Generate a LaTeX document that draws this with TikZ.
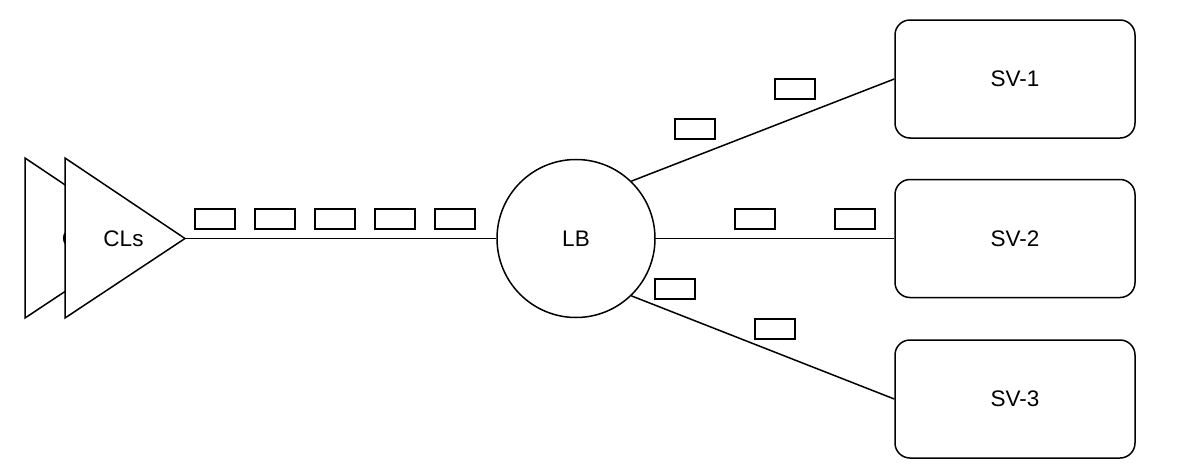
\documentclass[tikz,border=0pt]{standalone}
\usepackage{fontspec}
\setmainfont{Liberation Sans}
\begin{document}
\begin{tikzpicture}[x=1pt,y=-1pt,line width=1.5pt,font=\fontsize{22.5}{26}\selectfont,
  box/.style={draw,rounded corners=15pt,minimum width=240pt,minimum height=118pt,inner sep=0pt},
  pkt/.style={draw,minimum width=40pt,minimum height=20pt,inner sep=0pt},
  conn/.style={draw,line width=1.5pt},
  tri/.style={draw,fill=white,line join=miter}]
\useasboundingbox (0,0) rectangle (1186,474);
% back triangle
\draw[tri] (25,158) -- (145,238.5) -- (25,318) -- cycle;
\node (clsback) at (82,239) {CLs};
% front triangle
\draw[tri] (65,158) -- (185,238.5) -- (65,318) -- cycle;
\node (cls) at (123.5,239) {CLs};
\coordinate (cltip) at (185,238.5);
% load balancer
\node[circle,draw,minimum size=158pt,inner sep=0pt] (lb) at (576,238.5) {LB};
% servers
\node[box] (sv1) at (1015,79) {SV-1};
\node[box] (sv2) at (1015,238.5) {SV-2};
\node[box] (sv3) at (1015,399) {SV-3};
% connectors
\draw[conn] (cltip) -- (lb.west);
\draw[conn] (lb.46) -- (sv1.west);
\draw[conn] (lb.east) -- (sv2.west);
\draw[conn] (lb.-46) -- (sv3.west);
% packets
\node[pkt] (p1) at (215,219) {};
\node[pkt] (p2) at (275,219) {};
\node[pkt] (p3) at (335,219) {};
\node[pkt] (p4) at (395,219) {};
\node[pkt] (p5) at (455,219) {};
\node[pkt] (q1) at (795,89) {};
\node[pkt] (q2) at (695,129) {};
\node[pkt] (r1) at (755,219) {};
\node[pkt] (r2) at (855,219) {};
\node[pkt] (s1) at (675,289) {};
\node[pkt] (s2) at (775,329) {};
\end{tikzpicture}
\end{document}
